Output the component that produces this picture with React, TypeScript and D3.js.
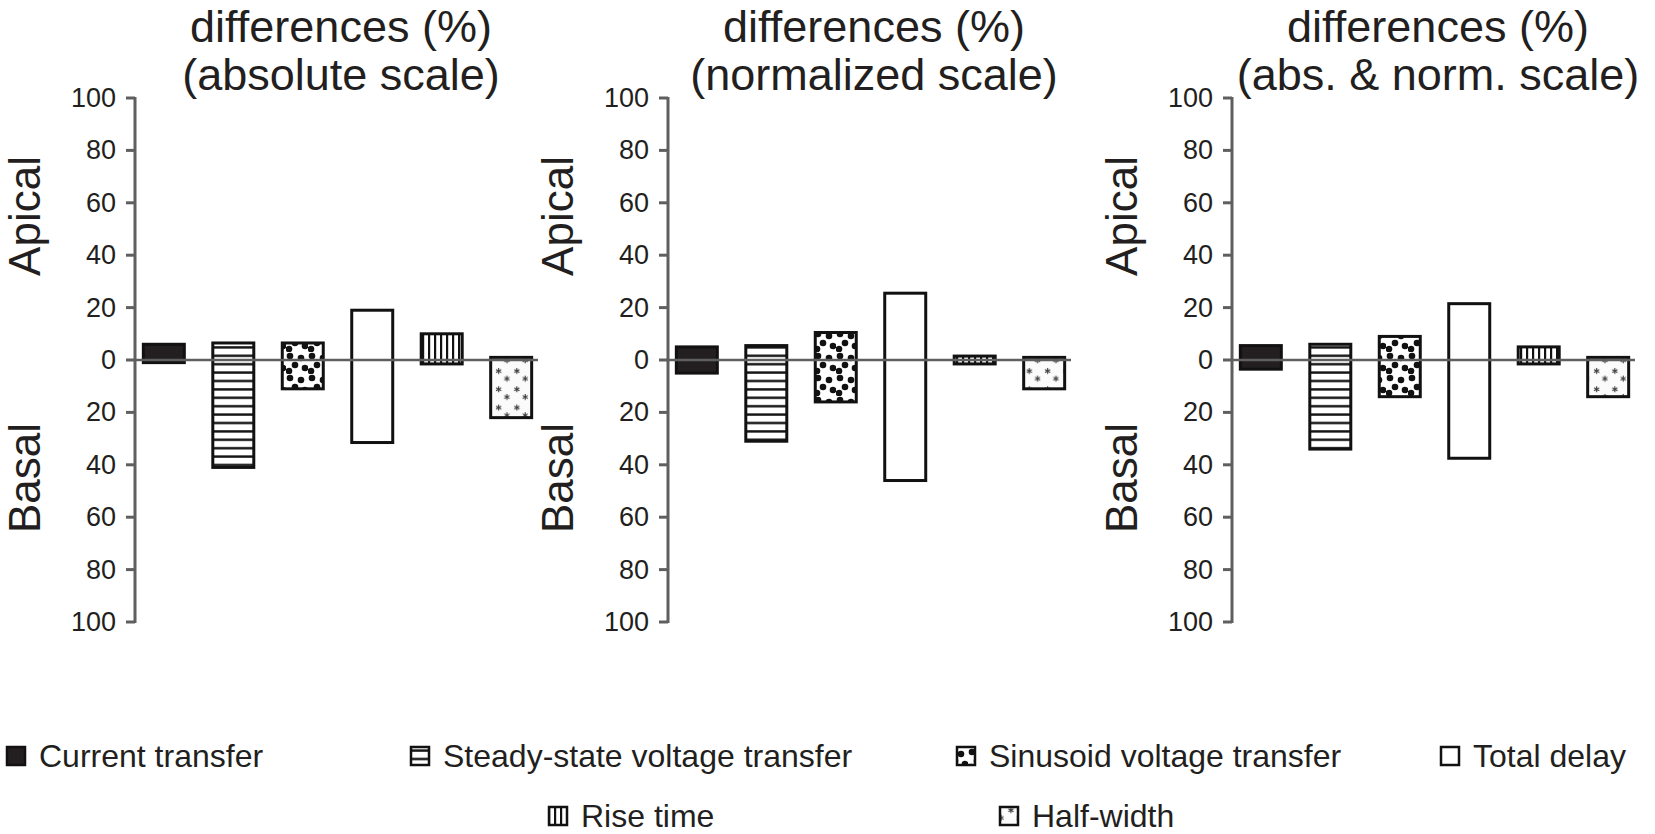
import React, { useEffect, useRef } from "react";
import * as d3 from "d3";

// Categories (same order in every panel and in the legend)
const categories = [
  "Current transfer",
  "Steady-state voltage transfer",
  "Sinusoid voltage transfer",
  "Total delay",
  "Rise time",
  "Half-width",
];

const panelTitles = [
  ["differences (%)", "(absolute scale)"],
  ["differences (%)", "(normalized scale)"],
  ["differences (%)", "(abs. & norm. scale)"],
];

// Apical (upwards) and basal (downwards) differences, in %
const apicalAbsolute = [6, 6.5, 6.5, 19, 10, 1];
const basalAbsolute = [1, 41, 11, 31.5, 1.5, 22];
const apicalNormalized = [5, 5.5, 10.5, 25.5, 1.5, 1];
const basalNormalized = [5, 31, 16, 46, 1.5, 11];
const apicalCombined = [5.5, 6, 9, 21.5, 5, 1];
const basalCombined = [3.5, 34, 14, 37.5, 1.5, 14];

const yTicks = [100, 80, 60, 40, 20, 0, -20, -40, -60, -80, -100];

const WIDTH = 1655;
const HEIGHT = 834;
const FONT = "'Liberation Sans', Arial, Helvetica, sans-serif";
const INK = "#231f20";
const AXIS = "#5f5f5f";

const patternIds = ["pSolid", "pHLines", "pDots", "pEmpty", "pVLines", "pStars"];

export default function App() {
  const svgRef = useRef<SVGSVGElement>(null);

  useEffect(() => {
    if (!svgRef.current) return;
    const svg = d3.select(svgRef.current);
    svg.selectAll("*").remove();

    // ---- patterns ----
    const defs = svg.append("defs");

    defs.append("pattern").attr("id", "pSolid").attr("patternUnits", "userSpaceOnUse")
      .attr("width", 4).attr("height", 4)
      .append("rect").attr("width", 4).attr("height", 4).attr("fill", INK);

    const h = defs.append("pattern").attr("id", "pHLines").attr("patternUnits", "userSpaceOnUse")
      .attr("width", 10).attr("height", 8.4).attr("y", 360);
    h.append("rect").attr("width", 10).attr("height", 8.4).attr("fill", "#fff");
    h.append("rect").attr("y", 3).attr("width", 10).attr("height", 2.4).attr("fill", "#111");

    const v = defs.append("pattern").attr("id", "pVLines").attr("patternUnits", "userSpaceOnUse")
      .attr("width", 6).attr("height", 10);
    v.append("rect").attr("width", 6).attr("height", 10).attr("fill", "#fff");
    v.append("rect").attr("x", 2).attr("width", 2.2).attr("height", 10).attr("fill", "#111");

    const dots = defs.append("pattern").attr("id", "pDots").attr("patternUnits", "userSpaceOnUse")
      .attr("width", 22).attr("height", 22);
    dots.append("rect").attr("width", 22).attr("height", 22).attr("fill", "#fff");
    [[4, 4], [15, 6], [9, 13], [19, 16], [3, 19]].forEach(([cx, cy]) =>
      dots.append("circle").attr("cx", cx).attr("cy", cy).attr("r", 3.3).attr("fill", "#111")
    );

    defs.append("pattern").attr("id", "pEmpty").attr("patternUnits", "userSpaceOnUse")
      .attr("width", 4).attr("height", 4)
      .append("rect").attr("width", 4).attr("height", 4).attr("fill", "#fff");

    const stars = defs.append("pattern").attr("id", "pStars").attr("patternUnits", "userSpaceOnUse")
      .attr("width", 18.3).attr("height", 18.3);
    stars.append("rect").attr("width", 18.3).attr("height", 18.3).attr("fill", "#fbfbfb");
    [[4.5, 5], [12.8, 12.7]].forEach(([cx, cy]) => {
      const s = stars.append("g").attr("transform", `translate(${cx},${cy})`);
      [0, 60, 120].forEach((a) =>
        s.append("line")
          .attr("x1", -3).attr("x2", 3)
          .attr("transform", `rotate(${a + 90})`)
          .attr("stroke", "#3a3a3a").attr("stroke-width", 1.1)
      );
    });

    // ---- panels ----
    const panelAxisX = [135, 668, 1232];
    const panels = [
      { title: panelTitles[0], apical: apicalAbsolute, basal: basalAbsolute },
      { title: panelTitles[1], apical: apicalNormalized, basal: basalNormalized },
      { title: panelTitles[2], apical: apicalCombined, basal: basalCombined },
    ];

    const y = d3.scaleLinear().domain([-100, 100]).range([622, 98]);

    panels.forEach((p, pi) => {
      const ax = panelAxisX[pi];
      const g = svg.append("g");
      const x = d3.scaleBand<string>()
        .domain(categories)
        .range([ax, ax + 405])
        .paddingInner(0.41)
        .paddingOuter(0.12);

      // title
      p.title.forEach((line, li) =>
        g.append("text")
          .attr("x", ax + 206).attr("y", 42 + li * 48)
          .attr("text-anchor", "middle")
          .attr("font-size", 45).attr("fill", INK)
          .text(line)
      );

      // side labels
      [["Apical", 216], ["Basal", 478]].forEach(([t, cy]) =>
        g.append("text")
          .attr("transform", `translate(${ax - 111},${cy}) rotate(-90)`)
          .attr("text-anchor", "middle")
          .attr("dominant-baseline", "central")
          .attr("font-size", 44).attr("fill", INK)
          .text(t as string)
      );

      // y axis
      g.append("line")
        .attr("x1", ax).attr("x2", ax)
        .attr("y1", y(100) - 1).attr("y2", y(-100) + 1)
        .attr("stroke", AXIS).attr("stroke-width", 3);
      yTicks.forEach((t) => {
        g.append("line")
          .attr("x1", ax - 9).attr("x2", ax)
          .attr("y1", y(t)).attr("y2", y(t))
          .attr("stroke", AXIS).attr("stroke-width", 3);
        g.append("text")
          .attr("x", ax - 19).attr("y", y(t))
          .attr("text-anchor", "end")
          .attr("dominant-baseline", "central")
          .attr("font-size", 27).attr("fill", INK)
          .text(Math.abs(t));
      });

      // bars
      categories.forEach((c, i) => {
        const top = y(p.apical[i]);
        const bottom = y(-p.basal[i]);
        g.append("rect")
          .attr("x", x(c)!)
          .attr("y", top)
          .attr("width", x.bandwidth())
          .attr("height", bottom - top)
          .attr("fill", `url(#${patternIds[i]})`)
          .attr("stroke", "#111")
          .attr("stroke-width", 3);
      });

      // zero line on top of bars
      g.append("line")
        .attr("x1", ax).attr("x2", ax + 403)
        .attr("y1", y(0)).attr("y2", y(0))
        .attr("stroke", AXIS).attr("stroke-width", 2.5);
    });

    // ---- legend ----
    const legendPos = [
      [6, 756], [410, 756], [956, 756], [1440, 756],
      [548, 816], [999, 816],
    ];
    categories.forEach((c, i) => {
      const [lx, ly] = legendPos[i];
      svg.append("rect")
        .attr("x", lx + 1).attr("y", ly - 9)
        .attr("width", 18).attr("height", 18)
        .attr("fill", `url(#${patternIds[i]})`)
        .attr("stroke", "#111").attr("stroke-width", 2.5);
      svg.append("text")
        .attr("x", lx + 33).attr("y", ly)
        .attr("dominant-baseline", "central")
        .attr("font-size", 32).attr("fill", INK)
        .text(c);
    });
  }, []);

  return (
    <svg
      ref={svgRef}
      width={WIDTH}
      height={HEIGHT}
      style={{ position: "absolute", left: 0, top: 0, background: "#fff", fontFamily: FONT }}
    />
  );
}
